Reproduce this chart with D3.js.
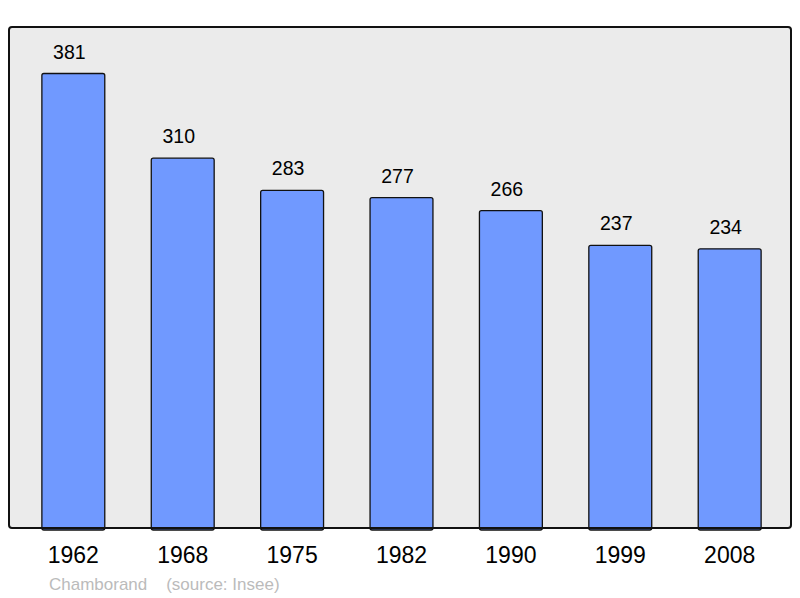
<!DOCTYPE html>
<html>
<head>
<meta charset="utf-8">
<script src="https://cdn.jsdelivr.net/npm/d3@7"></script>
<style>
  body { margin: 0; background: #fff; }
  text { font-family: "Liberation Sans", Arial, sans-serif; }
</style>
</head>
<body>
<div id="chart"></div>
<script>
const years = ["1962", "1968", "1975", "1982", "1990", "1999", "2008"];
const population = [381, 310, 283, 277, 266, 237, 234];
const commune = "Chamborand";
const source = "(source: Insee)";

const width = 800, height = 598;
const frame = {left: 9, top: 27, right: 791, bottom: 528};

var svg = d3.select("#chart")
  .append("svg")
    .attr("width", width)
    .attr("height", height);

// plot background
svg.append("rect")
  .attr("x", frame.left)
  .attr("y", frame.top)
  .attr("width", frame.right - frame.left)
  .attr("height", frame.bottom - frame.top)
  .attr("rx", 3)
  .style("fill", "#ebebeb")
  .style("stroke", "none");

var x = d3.scaleBand()
  .domain(years)
  .range([20, 783])
  .paddingInner(0.425)
  .paddingOuter(0.2);

var y = d3.scaleLinear()
  .domain([0, 420])
  .range([frame.bottom, frame.top]);

var data = years.map(function(yr, i) { return {year: yr, value: population[i]}; });

// bars
svg.append("g")
  .selectAll("rect")
  .data(data)
  .enter()
  .append("rect")
    .attr("x", function(d) { return x(d.year); })
    .attr("y", function(d) { return y(d.value); })
    .attr("width", x.bandwidth())
    .attr("height", function(d) { return frame.bottom - y(d.value) + 2; })
    .attr("rx", 2)
    .style("fill", "#7099ff")
    .style("stroke", "#111")
    .style("stroke-width", 1.3);

// value labels
svg.append("g")
  .selectAll("text")
  .data(data)
  .enter()
  .append("text")
    .attr("x", function(d) { return x(d.year) + x.bandwidth() / 2 - 4; })
    .attr("y", function(d) { return y(d.value) - 15; })
    .attr("text-anchor", "middle")
    .style("font-size", "19.5px")
    .style("fill", "#000")
    .text(function(d) { return d.value; });

// frame outline drawn on top
svg.append("rect")
  .attr("x", frame.left)
  .attr("y", frame.top)
  .attr("width", frame.right - frame.left)
  .attr("height", frame.bottom - frame.top)
  .attr("rx", 3)
  .style("fill", "none")
  .style("stroke", "#111")
  .style("stroke-width", 2);

// year axis
var xAxis = svg.append("g")
  .attr("transform", "translate(0," + frame.bottom + ")")
  .call(d3.axisBottom(x).tickSize(0).tickPadding(19));
xAxis.select(".domain").remove();
xAxis.selectAll("text")
  .style("font-size", "23px")
  .style("font-family", "'Liberation Sans', Arial, sans-serif")
  .style("fill", "#000");

// footer
svg.append("text")
  .attr("x", 49)
  .attr("y", 590)
  .style("font-size", "17px")
  .style("fill", "#bbb")
  .style("white-space", "pre")
  .attr("xml:space", "preserve")
  .text(commune + "    " + source);
</script>
</body>
</html>
